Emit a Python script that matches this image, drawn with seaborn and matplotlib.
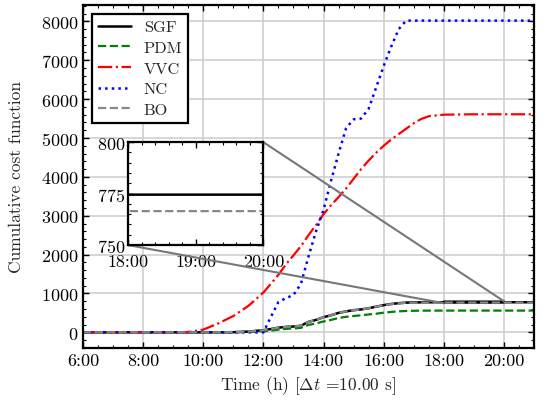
#! /usr/bin/env python3
import seaborn as sns
import matplotlib.pyplot as plt
from matplotlib.ticker import MultipleLocator, AutoMinorLocator, FuncFormatter
from mpl_toolkits.axes_grid1.inset_locator import mark_inset

# time of day in hours
hours = [6, 9, 9.5, 10, 10.5, 11, 11.5, 12, 12.25, 12.5, 12.75, 13, 13.25, 13.5,
         13.75, 14, 14.25, 14.5, 14.75, 15, 15.25, 15.5, 15.75, 16, 16.25, 16.5,
         16.75, 17, 17.25, 17.5, 18, 19, 20, 21]

sgf = [0, 0, 0, 0, 0, 5, 20, 55, 85, 120, 140, 150, 170, 270,
       320, 390, 440, 500, 540, 570, 590, 620, 660, 700, 730, 750,
       765, 770, 772, 773.5, 774.5, 774.5, 774.5, 774.5]
pdm = [0, 0, 0, 0, 0, 3, 10, 25, 45, 70, 90, 100, 115, 190,
       230, 280, 320, 370, 400, 420, 440, 460, 480, 505, 525, 540,
       550, 555, 558, 559, 560, 560, 560, 560]
vvc = [0, 0, 10, 70, 230, 420, 680, 1025, 1250, 1480, 1750, 1980, 2220, 2500,
       2760, 3040, 3270, 3480, 3700, 3950, 4200, 4420, 4620, 4800, 4960, 5100,
       5240, 5380, 5490, 5560, 5600, 5610, 5610, 5610]
nc = [0, 0, 0, 0, 0, 0, 0, 0, 400, 780, 880, 960, 1250, 1950,
      2600, 3150, 3900, 4600, 5250, 5480, 5500, 5750, 6300, 6850, 7350, 7800,
      8020, 8020, 8020, 8020, 8020, 8020, 8020, 8020]
bo = [0, 0, 0, 0, 0, 5, 20, 55, 85, 120, 140, 150, 170, 270,
      320, 390, 440, 500, 540, 570, 590, 620, 660, 700, 725, 745,
      758, 763, 765, 766, 766.5, 766.5, 766.5, 766.5]

# inset window
inset_xticks = [18, 19, 20]
inset_yticks = [750, 775, 800]

SERIES = [("SGF", sgf, "black", "-", 1.8),
          ("PDM", pdm, "#008000", "--", 1.6),
          ("VVC", vvc, "#ff0000", "-.", 1.6),
          ("NC", nc, "#0000ff", ":", 1.8),
          ("BO", bo, "#888888", "--", 1.6)]


def hour_fmt(v, pos):
    return f"{int(round(v))}:00"


def style_axis(a):
    a.tick_params(which='both', direction='in', bottom=True, left=True,
                  top=True, right=True, colors='black')
    a.tick_params(which='major', length=4.5, width=1.0)
    a.tick_params(which='minor', length=2.5, width=0.8)
    a.xaxis.set_minor_locator(AutoMinorLocator())
    a.yaxis.set_minor_locator(AutoMinorLocator())
    a.xaxis.set_major_formatter(FuncFormatter(hour_fmt))
    for s in a.spines.values():
        s.set_color('black')
        s.set_linewidth(1.6)


def main():
    sns.set_theme(style='white')
    plt.rcParams['font.family'] = 'serif'
    plt.rcParams['font.serif'] = ['cmr10']
    plt.rcParams['mathtext.fontset'] = 'cm'
    plt.rcParams['axes.formatter.use_mathtext'] = True
    plt.rcParams['axes.unicode_minus'] = False

    f = plt.figure(figsize=(5.46, 4.02), dpi=100)
    ax = f.add_axes([0.152, 0.132, 0.826, 0.853])

    for name, vals, col, ls, lw in SERIES:
        sns.lineplot(x=hours, y=vals, color=col, linestyle=ls, linewidth=lw,
                     label=name, ax=ax)

    ax.set_xlim(6, 21)
    ax.xaxis.set_major_locator(MultipleLocator(2))
    ax.yaxis.set_major_locator(MultipleLocator(1000))
    style_axis(ax)
    ax.grid(True, which='major', color='#cccccc', linewidth=1.1)
    ax.set_axisbelow(True)
    ax.tick_params(labelsize=13)
    ax.set_xlabel(r'Time (h) [$\Delta t$ =10.00 s]', fontsize=12.5)
    ax.set_ylabel('Cumulative cost function', fontsize=12.5, labelpad=12)

    leg = ax.legend(loc='upper left', fontsize=11.8, fancybox=False, framealpha=1,
                    edgecolor='black', handlelength=2.0, borderpad=0.35,
                    labelspacing=0.38, borderaxespad=0.55)
    leg.get_frame().set_linewidth(1.6)

    # zoomed inset
    axins = ax.inset_axes([0.1, 0.3, 0.3, 0.3])
    for name, vals, col, ls, lw in SERIES:
        sns.lineplot(x=hours, y=vals, color=col, linestyle=ls, linewidth=lw,
                     legend=False, ax=axins)
    axins.set_xlim(inset_xticks[0], inset_xticks[-1])
    axins.set_ylim(inset_yticks[0], inset_yticks[-1])
    axins.set_xticks(inset_xticks)
    axins.set_yticks(inset_yticks)
    style_axis(axins)
    axins.grid(False)
    axins.set_facecolor('white')
    axins.tick_params(labelsize=13)
    axins.tick_params(axis='x', pad=6)
    axins.tick_params(axis='y', pad=2)
    axins.set_xlabel('')
    axins.set_ylabel('')
    mark_inset(ax, axins, loc1=1, loc2=3, fc='none', ec='#777777', lw=1.5)

    f.savefig("out.png", dpi=100)


if __name__ == "__main__":
    main()
